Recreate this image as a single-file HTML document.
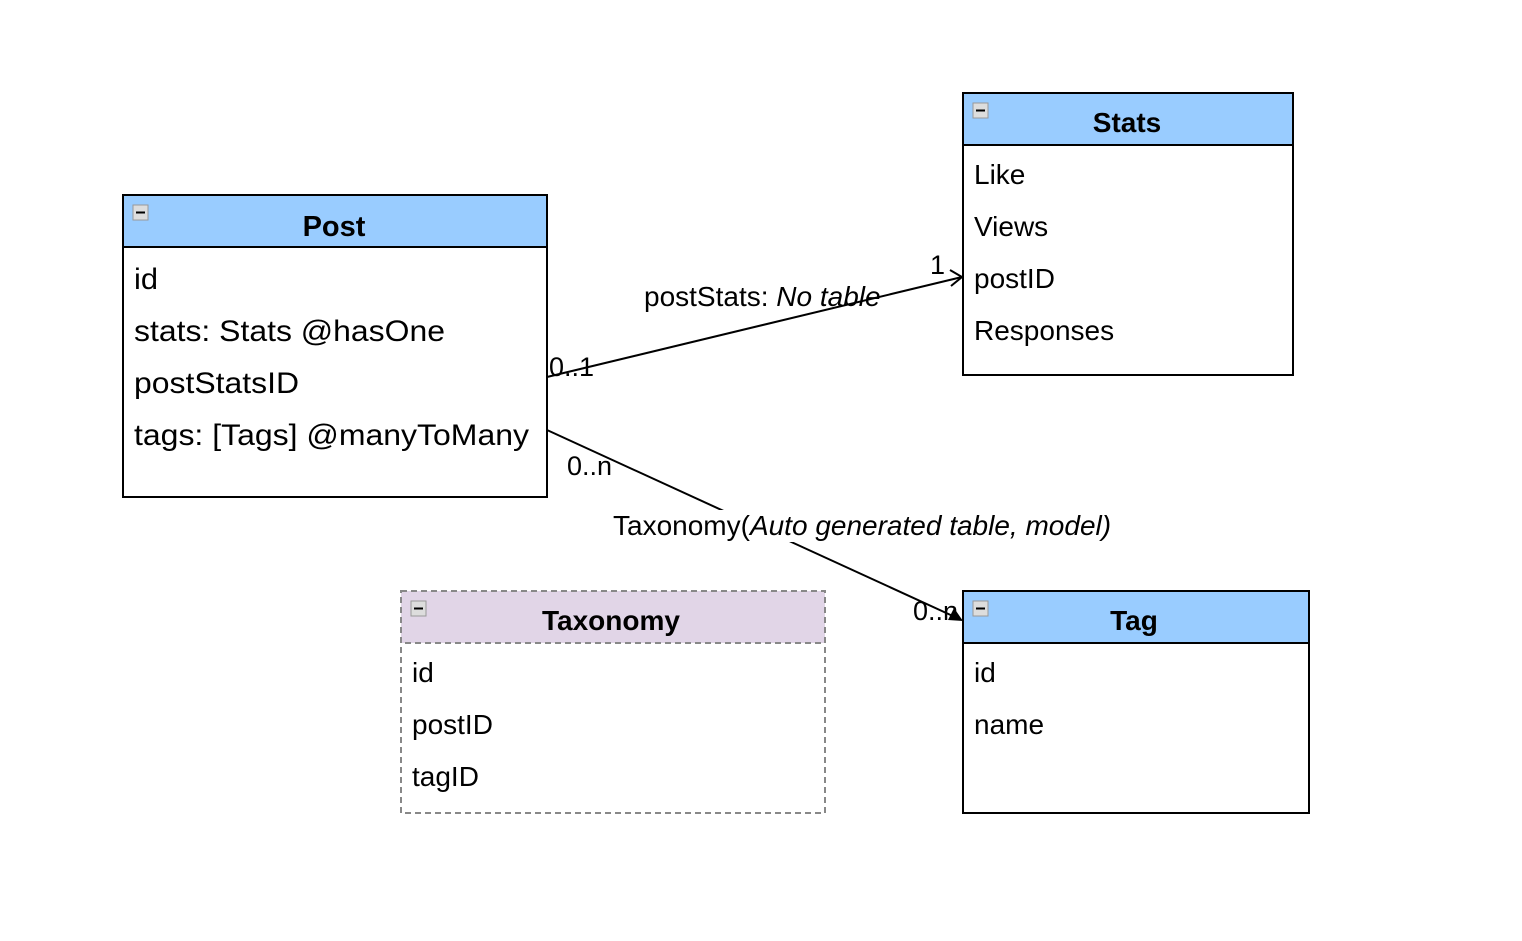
<!DOCTYPE html>
<html><head><meta charset="utf-8"><style>
body{margin:0;background:#fff;width:1522px;height:936px;overflow:hidden}
svg text{font-family:"Liberation Sans",Arial,sans-serif}
</style></head><body>
<svg width="1522" height="936" xmlns="http://www.w3.org/2000/svg">
<defs>
<g id="mini"><rect width="15" height="15" fill="#ddd" stroke="#999"/><rect x="3" y="6.5" width="9" height="2" fill="#000"/></g>
</defs>
<!-- Post -->
<rect x="123" y="195" width="424" height="302" fill="#fff" stroke="#000" stroke-width="2"/>
<rect x="123" y="195" width="424" height="52" fill="#99ccff" stroke="#000" stroke-width="2"/>
<use href="#mini" x="133" y="205"/>
<text x="334" y="236" font-size="29" font-weight="bold" text-anchor="middle">Post</text>
<g font-size="30">
<text x="134" y="289" textLength="24" lengthAdjust="spacingAndGlyphs">id</text>
<text x="134" y="341" textLength="311" lengthAdjust="spacingAndGlyphs">stats: Stats @hasOne</text>
<text x="134" y="393" textLength="165" lengthAdjust="spacingAndGlyphs">postStatsID</text>
<text x="134" y="445" textLength="395" lengthAdjust="spacingAndGlyphs">tags: [Tags] @manyToMany</text>
</g>
<!-- Stats -->
<rect x="963" y="93" width="330" height="282" fill="#fff" stroke="#000" stroke-width="2"/>
<rect x="963" y="93" width="330" height="52" fill="#99ccff" stroke="#000" stroke-width="2"/>
<use href="#mini" x="973" y="103"/>
<text x="1127" y="132" font-size="28" font-weight="bold" text-anchor="middle">Stats</text>
<g font-size="28">
<text x="974" y="184">Like</text>
<text x="974" y="236">Views</text>
<text x="974" y="288">postID</text>
<text x="974" y="340">Responses</text>
</g>
<!-- Taxonomy -->
<rect x="401" y="591" width="424" height="222" fill="#fff" stroke="#888" stroke-width="2" stroke-dasharray="6,4"/>
<rect x="401" y="591" width="424" height="52" fill="#e1d5e7" stroke="#888" stroke-width="2" stroke-dasharray="6,4"/>
<use href="#mini" x="411" y="601"/>
<text x="611" y="630" font-size="28" font-weight="bold" text-anchor="middle">Taxonomy</text>
<g font-size="28">
<text x="412" y="682">id</text>
<text x="412" y="734">postID</text>
<text x="412" y="786">tagID</text>
</g>
<!-- Tag -->
<rect x="963" y="591" width="346" height="222" fill="#fff" stroke="#000" stroke-width="2"/>
<rect x="963" y="591" width="346" height="52" fill="#99ccff" stroke="#000" stroke-width="2"/>
<use href="#mini" x="973" y="601"/>
<text x="1134" y="630" font-size="28" font-weight="bold" text-anchor="middle">Tag</text>
<g font-size="28">
<text x="974" y="682">id</text>
<text x="974" y="734">name</text>
</g>
<!-- connector 1 -->
<line x1="547" y1="377" x2="962" y2="277" stroke="#000" stroke-width="2"/>
<polyline points="950,270 962,277 951,286" fill="none" stroke="#000" stroke-width="2"/>
<rect x="644" y="284" width="166" height="28" fill="#fff"/>
<text x="644" y="306" font-size="28">postStats: <tspan font-style="italic">No table</tspan></text>
<text x="549" y="376" font-size="27">0..1</text>
<text x="930" y="274" font-size="27">1</text>
<!-- connector 2 -->
<line x1="547" y1="430" x2="955" y2="617" stroke="#000" stroke-width="2"/>
<polygon points="963,621 948,620 954,608" fill="#000"/>
<rect x="612" y="510" width="502" height="32" fill="#fff"/>
<text x="613" y="535" font-size="28">Taxonomy(<tspan font-style="italic">Auto generated table, model)</tspan></text>
<text x="567" y="475" font-size="27">0..n</text>
<text x="913" y="620" font-size="27">0..n</text>
</svg>
</body></html>
